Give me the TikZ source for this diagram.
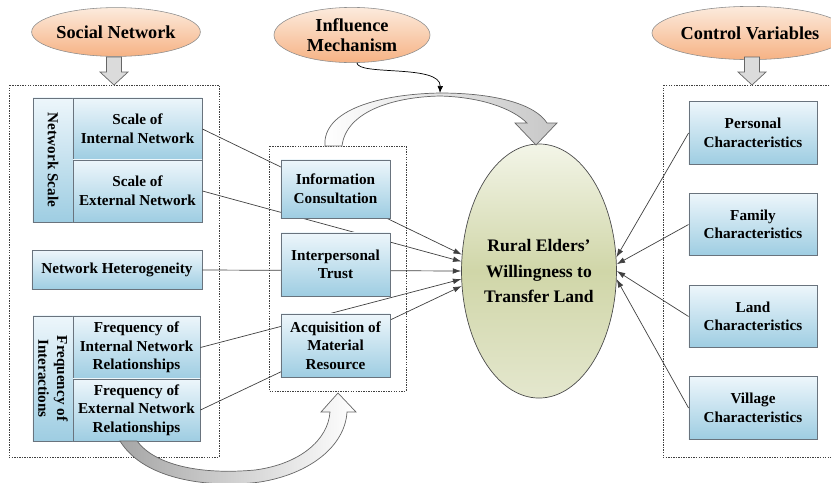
\documentclass[tikz,border=0pt]{standalone}
\usepackage{fontspec}
\setmainfont{Liberation Serif}
\usepackage{tikz}
\usetikzlibrary{shapes.geometric,arrows.meta}
\definecolor{boxtop}{RGB}{237,246,251}
\definecolor{boxbot}{RGB}{158,205,226}
\definecolor{boxline}{RGB}{105,115,125}
\definecolor{peachtop}{RGB}{252,235,221}
\definecolor{peachbot}{RGB}{246,178,132}
\definecolor{olivetop}{RGB}{243,245,232}
\definecolor{olivemid}{RGB}{208,214,168}
\definecolor{olivebot}{RGB}{228,231,206}

\begin{document}
\begin{tikzpicture}[x=0.025cm,y=-0.025cm]
  \tikzstyle{item}=[draw=boxline, line width=0.6pt, top color=boxtop, bottom color=boxbot, font=\fontsize{10.8}{13.2}\selectfont\bfseries, align=center, inner sep=1pt]
  \tikzstyle{head}=[ellipse, draw=black!45, top color=peachtop, bottom color=peachbot, font=\fontsize{13}{14}\selectfont\bfseries, align=center, inner sep=0pt]
  \tikzstyle{group}=[draw=black!75, line width=0.6pt, dash pattern=on 1pt off 0.8pt]
  \tikzstyle{directed}=[-{Latex[length=6pt,width=4pt]}, draw=black!75, line width=0.5pt]
  \tikzstyle{hollow}=[draw=black!60, line width=0.5pt]
  \useasboundingbox (0,0) rectangle (831,482);

  % headings
  \node[head, minimum width=3.9cm, minimum height=1.22cm] (sn) at (116,32) {Social Network};
  \node[head, minimum width=3.9cm, minimum height=1.38cm] (im) at (352,35) {Influence\\Mechanism};
  \node[head, minimum width=3.9cm, minimum height=1.33cm] (cv) at (750,33) {Control Variables};
  \foreach \x in {114,752} {
    \draw[hollow, fill=black!14] (\x-7.5,57) -- (\x+7.5,57) -- (\x+7.5,72) -- (\x+14,72)
      -- (\x,85) -- (\x-14,72) -- (\x-7.5,72) -- cycle;
  }

  % dotted groups
  \draw[group] (9,85) rectangle (219,457);
  \draw[group] (663,85) rectangle (845,457);

  % social network items
  \node[item, rotate=-90, minimum width=3.1cm, minimum height=1.0cm] (nsv) at (53,160) {Network Scale};
  \node[item, minimum width=3.225cm, minimum height=1.55cm] (sin) at (137.5,129) {Scale of\\Internal Network};
  \node[item, minimum width=3.225cm, minimum height=1.55cm] (sex) at (137.5,191) {Scale of\\External Network};
  \node[item, minimum width=4.25cm, minimum height=0.975cm] (nh) at (117,270) {Network Heterogeneity};
  \node[item, rotate=-90, minimum width=3.125cm, minimum height=1.0cm] (fiv) at (53,378.5) {Frequency of\\Interactions};
  \node[item, minimum width=3.175cm, minimum height=1.575cm] (fin) at (136.5,347.5) {Frequency of\\Internal Network\\Relationships};
  \node[item, minimum width=3.175cm, minimum height=1.55cm] (fex) at (136.5,410) {Frequency of\\External Network\\Relationships};

  % outcome
  \node[ellipse, draw=black!70, line width=0.5pt, top color=olivetop, bottom color=olivebot, middle color=olivemid,
        minimum width=3.2cm, minimum height=6.35cm, inner sep=0pt, align=center,
        font=\fontsize{12.5}{18}\selectfont\bfseries] (ell) at (539,271) {Rural Elders'\\Willingness to\\Transfer Land};

  \foreach \n/\a in {sin/168,sex/173,nh/180,fin/186,fex/191} {
    \draw[directed] (\n.east) -- (ell.\a);
  }

  % mechanism items
  \draw[group] (269,146) rectangle (406,391);
  \foreach \n/\y/\h/\t in {ic/189/1.45cm/{Information\\Consultation},
                           it/264.5/1.575cm/{Interpersonal\\Trust},
                           am/345.5/1.575cm/{Acquisition of\\Material\\Resource}} {
    \node[item, minimum width=2.725cm, minimum height=\h] (\n) at (335.5,\y) {\t};
  }

  % control variables
  \foreach \n/\y/\t/\a in {pc/133/Personal/10, fc/224.5/Family/5, lc/316.5/Land/0, vc/408/Village/-6} {
    \node[item, minimum width=3.2cm, minimum height=1.56cm] (\n) at (753,\y) {\t\\Characteristics};
    \draw[directed] (\n.west) -- (ell.\a);
  }

  % curved block arrows
  \draw[hollow, left color=white, right color=black!22]
    (325,146) .. controls (322,110) and (380,94) .. (440,93)
    .. controls (495,93) and (535,104) .. (547,123)
    -- (557,123) -- (536,145) -- (515,123) -- (527,123)
    .. controls (512,108) and (480,97) .. (440,96)
    .. controls (392,97) and (346,112) .. (342,146) -- cycle;
  \draw[hollow, left color=black!35, right color=white]
    (120,441) .. controls (145,482) and (215,488) .. (260,482)
    .. controls (310,474) and (345,446) .. (347,412)
    -- (356,412) -- (338,393) -- (321,412) -- (330,412)
    .. controls (328,440) and (300,464) .. (255,470)
    .. controls (200,475) and (155,465) .. (137,441) -- cycle;

  \coordinate (join) at (440,93);
  \draw[-{Latex[length=5pt,width=4pt]}, line width=0.5pt] (im.-80) .. controls (358,76) and (441,64) .. (join);
\end{tikzpicture}
\end{document}
